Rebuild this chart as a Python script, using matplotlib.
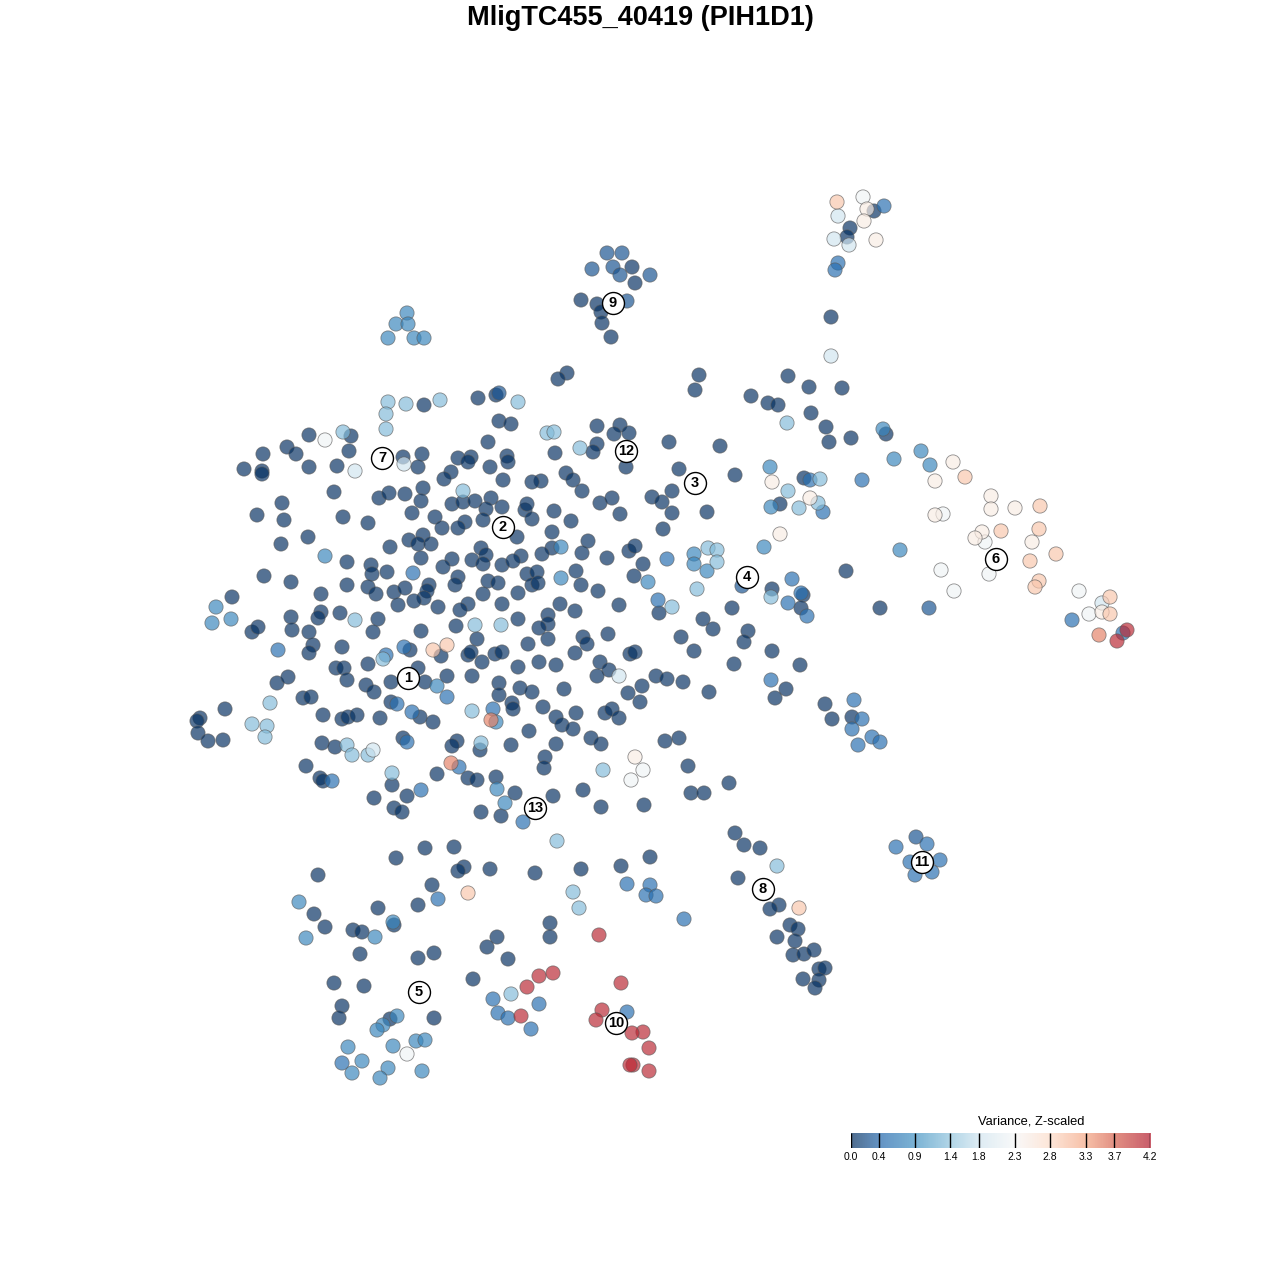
import numpy as np
import matplotlib
matplotlib.use("Agg")
import matplotlib.pyplot as plt
from matplotlib.colors import LinearSegmentedColormap, Normalize

plt.rcParams['font.family'] = ['Liberation Sans', 'DejaVu Sans']

# t-SNE coordinates, grouped by expression level
level_values = {'d': 0.0, 'dm': 0.25, 'm': 0.5, 'l': 0.75, 'll': 1.3,
                'lw': 1.8, 'w': 2.2, 'p': 2.5, 'o': 3.0, 'od': 3.5, 'r': 4.1}

pts_d = [(424,405),(478,398),(496,395),(499,421),(488,442),(309,435),(351,436),(349,451),(287,447),(296,454),
         (263,454),(244,469),(262,471),(262,474),(309,467),(337,466),(403,457),(422,454),(418,467),(458,458),
         (471,457),(468,462),(490,467),(451,472),(444,479),(503,480),
         (632,267),(635,283),(581,300),(597,304),(601,312),(602,323),(611,337),(567,373),(558,379),(699,375),
         (695,390),(788,376),(809,387),(751,396),(768,403),(778,405),(811,413),(826,427),(831,317),(511,424),
         (597,426),(620,425),(614,434),(629,433),(597,444),(593,452),(555,453),(626,467),(669,442),(720,446),
         (679,469),(735,475),(566,473),(573,480),(541,481),(532,482),(507,456),(508,462),(804,478),
         (874,211),(850,228),(847,237),(842,388),(829,442),(851,438),(886,434),
         (334,492),(379,498),(389,493),(405,494),(423,488),(421,501),(452,504),(463,502),(475,501),(491,498),
         (502,507),(486,509),(282,503),(257,515),(284,520),(343,517),(368,523),(412,513),(435,517),(442,528),
         (465,522),(458,528),(483,520),(281,544),(308,537),(390,547),(409,540),(423,535),(418,544),(431,544),
         (481,548),(486,555),(472,560),(483,564),(502,565),(347,562),(371,565),(372,574),(387,572),(421,558),
         (452,559),(443,567),(458,577),(264,576),(291,582),(347,585),(368,587),(376,594),(394,592),(405,588),
         (429,585),(427,591),(424,598),(414,601),(398,605),(438,607),(455,585),(488,581),(498,583),(483,594),
         (468,604),(460,610),(502,604),(232,597),(252,632),(258,627),(291,617),(292,630),(321,594),(321,612),
         (318,618),(340,613),(309,632),(378,619),(373,632),(421,631),(456,626),(313,645),(309,653),(342,647),
         (368,664),(410,650),(441,656),(477,639),(468,655),(471,652),(482,662),(495,654),(502,652),(277,683),
         (288,677),(336,668),(344,668),(347,680),(366,685),(374,692),(391,682),(418,668),(425,682),(447,676),
         (472,676),(499,683),(499,695),(303,698),(311,697),(225,709),(200,718),(197,721),(198,733),(208,741),
         (223,740),(323,715),(342,719),(348,717),(357,715),(380,718),(391,702),(420,717),(433,722),(322,743),
         (335,747),(403,738),(457,741),(452,746),(480,750),(306,766),(437,774),(468,778),(477,780),(496,777),
         (320,778),(323,781),
         (582,491),(600,503),(612,498),(620,514),(652,497),(662,502),(672,491),(672,513),(663,529),(707,512),
         (780,504),(517,537),(525,510),(527,504),(532,519),(552,532),(554,511),(571,521),(552,548),(542,554),
         (588,541),(582,553),(607,558),(521,556),(513,561),(629,551),(635,546),(643,564),(527,574),(537,572),
         (532,585),(538,583),(576,571),(581,585),(598,591),(634,576),(518,593),(772,589),(803,595),(801,608),
         (518,619),(560,604),(548,615),(548,624),(539,628),(575,611),(619,605),(659,613),(703,619),(713,629),
         (732,608),(528,644),(548,639),(583,637),(587,644),(608,634),(575,653),(630,654),(635,652),(681,637),
         (694,651),(748,631),(744,642),(772,651),(518,667),(539,662),(556,665),(600,662),(609,670),(597,676),
         (656,676),(667,679),(683,682),(734,664),(800,665),(520,688),(532,692),(564,689),(628,693),(642,686),
         (640,702),(709,692),(786,689),(775,698),(825,704),(512,703),(513,709),(543,707),(556,717),(562,725),
         (573,729),(576,713),(605,713),(612,709),(619,718),(529,731),(511,745),(556,744),(591,738),(601,744),
         (665,741),(679,738),(545,757),(544,768),(688,766),(729,783),
         (846,571),(880,608),(832,719),(852,717),
         (374,798),(407,796),(394,808),(402,812),(481,812),(501,816),(392,785),(425,848),(454,847),(396,858),
         (464,867),(458,871),(490,869),(318,875),(432,885),(418,905),(378,908),(314,914),(325,927),(353,930),
         (362,932),(394,925),(360,954),(418,958),(434,953),(497,937),(487,947),(334,983),(364,986),(473,979),
         (342,1006),(339,1018),(390,1019),(434,1018),
         (515,793),(553,796),(583,790),(601,807),(644,805),(691,793),(704,793),(535,873),(581,869),(621,866),
         (650,857),(550,923),(550,937),(508,959),(735,833),(744,845),(760,848),(738,878),(779,905),(770,909),
         (790,925),(798,929),(777,937),(795,941),(793,955),(804,954),(814,950),(819,969),(825,968),(803,979),
         (819,980),(815,988)]
pts_dm = [(499,393),(607,253),(622,253),(592,269),(613,267),(620,275),(650,275),(627,301),(916,837),(929,608),
          (742,586)]
pts_m = [(810,480),(884,206),(838,263),(835,270),(862,480),(413,573),(386,655),(404,647),(447,697),(397,704),
         (412,712),(493,709),(407,742),(459,767),(332,781),(823,512),(667,559),(792,579),(801,593),(788,603),
         (807,616),(658,600),(771,680),(1072,620),(1123,633),(854,700),(862,719),(852,729),(872,737),(880,742),
         (858,745),(421,790),(438,899),(493,999),(498,1013),(342,1063),(523,822),(627,884),(650,885),(646,895),
         (656,896),(684,919),(539,1004),(508,1018),(531,1029),(627,1012),(896,847),(927,844),(910,862),(940,860),
         (932,872),(915,875),(278,650)]
pts_l = [(407,313),(396,324),(408,324),(388,338),(414,338),(424,338),(770,467),(883,429),(894,459),(921,451),
         (930,465),(325,556),(216,607),(212,623),(231,619),(437,686),(496,722),(771,507),(561,547),(694,554),
         (694,564),(707,571),(764,547),(561,578),(648,582),(900,550),(299,902),(306,938),(375,937),(393,922),
         (397,1016),(383,1025),(377,1030),(348,1047),(393,1046),(416,1041),(425,1040),(362,1061),(352,1073),
         (388,1068),(380,1078),(422,1071),(497,789),(505,803)]
pts_ll = [(388,402),(406,404),(440,400),(386,414),(386,429),(343,432),(787,423),(518,402),(547,433),(554,432),
          (580,448),(820,479),(463,491),(355,620),(475,625),(501,625),(383,659),(270,703),(252,724),(267,726),
          (265,737),(472,711),(347,745),(352,755),(368,755),(481,743),(392,773),(788,491),(818,503),(799,508),
          (708,548),(717,550),(717,562),(697,589),(771,597),(672,607),(603,770),(557,841),(573,892),(579,908),
          (777,866),(511,994)]
pts_lw = [(355,471),(404,464),(831,356),(838,216),(834,239),(849,245),(373,750),(619,676),(1102,603)]
pts_w = [(325,440),(863,197),(943,514),(985,542),(989,574),(941,570),(954,591),(1079,591),(1089,614),
         (643,770),(631,780),(407,1054)]
pts_p = [(772,482),(867,209),(864,221),(876,240),(953,462),(935,481),(810,498),(780,534),(635,757),(991,496),
         (991,509),(1015,508),(935,515),(982,532),(975,538),(1032,542),(1102,612)]
pts_o = [(837,202),(965,477),(433,650),(447,645),(468,893),(799,908),(1040,506),(1001,531),(1039,529),
         (1056,554),(1030,561),(1039,581),(1035,587),(1110,597),(1110,614)]
pts_od = [(491,720),(451,763),(1099,635)]
pts_r = [(599,935),(539,976),(553,973),(527,987),(521,1016),(621,983),(602,1010),(596,1020),(643,1032),
         (632,1033),(649,1048),(633,1065),(630,1065),(649,1071),(1127,630),(1117,641)]

cluster_ids = ['1', '2', '3', '4', '5', '6', '7', '8', '9', '10', '11', '12', '13']
cluster_pos = [(408,678),(503,527),(695,483),(747,577),(419,992),(996,559),(382,458),
               (763,889),(613,303),(616,1023),(922,862),(626,451),(535,808)]

cbar_ticks = [0.0, 0.4, 0.9, 1.4, 1.8, 2.3, 2.8, 3.3, 3.7, 4.2]
cbar_colors = ['#053061', '#2166ac', '#4393c3', '#92c5de', '#d1e5f0',
               '#f7f7f7', '#fddbc7', '#f4a582', '#d6604d', '#b2182b']

groups = [('d', pts_d), ('dm', pts_dm), ('m', pts_m), ('l', pts_l), ('ll', pts_ll), ('lw', pts_lw),
          ('w', pts_w), ('p', pts_p), ('o', pts_o), ('od', pts_od), ('r', pts_r)]
xs, ys, vals = [], [], []
for code, pts in groups:
    for (px, py) in pts:
        xs.append(px)
        ys.append(py)
        vals.append(level_values[code])
xs, ys, vals = np.array(xs), np.array(ys), np.array(vals)
order = np.argsort(vals, kind='stable')

cmap = LinearSegmentedColormap.from_list('var', list(zip(np.array(cbar_ticks) / 4.2, cbar_colors)))
norm = Normalize(0, 4.2)

fig = plt.figure(figsize=(12.8, 12.8), dpi=100)
ax = fig.add_axes([0, 0, 1, 1])
ax.set_xlim(0, 1280)
ax.set_ylim(1280, 0)
ax.axis('off')

ax.scatter(xs[order], ys[order], c=vals[order], cmap=cmap, norm=norm, s=105, alpha=0.68,
           edgecolors='#5a5a5a', linewidths=0.6, zorder=2)

# cluster labels
cx = [p[0] for p in cluster_pos]
cy = [p[1] for p in cluster_pos]
ax.scatter(cx, cy, s=250, facecolors='white', edgecolors='black', linewidths=1.0, zorder=3)
for lab, (x, y) in zip(cluster_ids, cluster_pos):
    ax.text(x, y, lab, ha='center', va='center', fontsize=10.5, fontweight='bold', zorder=4)

fig.text(0.5, 1 - 18 / 1280, 'MligTC455_40419 (PIH1D1)', ha='center', va='center',
         fontsize=19.5, fontweight='bold')

# colour bar
cax = fig.add_axes([850.7 / 1280, 1 - 1148 / 1280, 299.3 / 1280, 15 / 1280])
grad = np.linspace(0, 4.2, 400)[None, :]
cax.imshow(grad, aspect='auto', cmap=cmap, norm=norm, alpha=0.7, extent=[0, 4.2, 0, 1])
cax.vlines(cbar_ticks, 0, 1, colors='black', linewidth=1.0)
cax.set_xlim(0, 4.2)
cax.set_ylim(0, 1)
for sp in cax.spines.values():
    sp.set_visible(False)
cax.set_yticks([])
cax.set_xticks(cbar_ticks)
cax.set_xticklabels(['%.1f' % t for t in cbar_ticks], fontsize=7.5)
cax.tick_params(axis='x', length=0, pad=3)
fig.text(1031 / 1280, 1 - 1122 / 1280, 'Variance, Z-scaled', ha='center', va='center', fontsize=9.3)

fig.savefig('out.png', dpi=100)
